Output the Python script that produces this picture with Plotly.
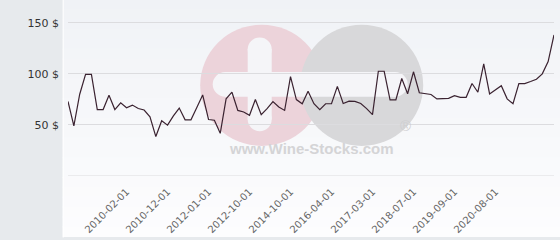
import plotly.graph_objects as go

dates = [
    "2008-06-01", "2008-09-01", "2008-11-01", "2009-01-01", "2009-03-01",
    "2009-05-01", "2009-07-01", "2009-09-01", "2009-11-01", "2010-01-01",
    "2010-02-01", "2010-03-01", "2010-04-01", "2010-06-01", "2010-07-01",
    "2010-09-01", "2010-10-01", "2010-12-01", "2011-02-01", "2011-04-01",
    "2011-06-01", "2011-08-01", "2011-10-01", "2011-11-01", "2012-01-01",
    "2012-02-01", "2012-03-01", "2012-04-01", "2012-06-01", "2012-07-01",
    "2012-08-01", "2012-10-01", "2013-01-01", "2013-04-01", "2013-07-01",
    "2013-10-01", "2014-01-01", "2014-04-01", "2014-10-01", "2014-12-01",
    "2015-03-01", "2015-05-01", "2015-08-01", "2015-10-01", "2016-01-01",
    "2016-04-01", "2016-05-01", "2016-07-01", "2016-08-01", "2016-10-01",
    "2016-11-01", "2017-01-01", "2017-03-01", "2017-05-01", "2017-07-01",
    "2017-09-01", "2017-11-01", "2018-01-01", "2018-04-01", "2018-07-01",
    "2018-09-01", "2018-11-01", "2019-01-01", "2019-03-01", "2019-05-01",
    "2019-07-01", "2019-09-01", "2019-10-01", "2019-12-01", "2020-01-01",
    "2020-03-01", "2020-04-01", "2020-06-01", "2020-08-01", "2020-09-01",
    "2020-10-01", "2020-11-01", "2020-12-01", "2021-01-01", "2021-02-01",
    "2021-03-01", "2021-04-01", "2021-05-01", "2021-06-01",
]

prices = [
    73, 49, 80, 99.5, 99.5, 65, 65, 79, 65, 71.6,
    66.8, 69.4, 66, 64.6, 58, 38.6, 54, 49.8, 58.8, 66.5,
    55, 55, 67, 79.3, 55.3, 54.6, 41.8, 75.5, 82, 64.2,
    62.7, 59.4, 74.8, 60, 65.9, 72.9, 67.5, 64.2, 97.3, 74.8,
    70.7, 82.9, 70.7, 64.9, 70.7, 70.7, 87.7, 71, 73.3, 73,
    71, 66, 60, 102.5, 102.5, 74.6, 74.6, 95.4, 80.5, 102,
    81.5, 81, 79.8, 75.5, 76, 76, 78.7, 77, 77, 90.5,
    82, 109.8, 80.3, 84.4, 88.3, 75.5, 70.7, 90.5, 90.5, 92.5,
    94.7, 100, 112, 138,
]

tick_labels = [
    "2010-02-01", "2010-12-01", "2012-01-01", "2012-10-01", "2014-10-01",
    "2016-04-01", "2017-03-01", "2018-07-01", "2019-09-01", "2020-08-01",
]

y_ticks = [0, 50, 100, 150]
y_tick_text = ["", "50 $", "100 $", "150 $"]

W, H = 560, 240
L, R = 68.3, 554.3
T, B = 5.0, 178.5


def px(x):
    return (x - L) / (R - L)


def py(y):
    return (B - y) / (B - T)


shapes = []


def lerp(c1, c2, t):
    return tuple(round(a + (b - a) * t) for a, b in zip(c1, c2))

top_c = (240, 242, 246)
bot_c = (253, 253, 254)
nb = 24
for i in range(nb):
    y0 = i * H / nb
    y1 = (i + 1) * H / nb
    c = lerp(top_c, bot_c, (i + 0.5) / nb)
    shapes.append(dict(type="rect", xref="paper", yref="paper", layer="below",
                       x0=px(63), x1=px(W + 2), y0=py(y1 + 0.5), y1=py(y0 - 0.5),
                       line=dict(width=0), fillcolor="rgb(%d,%d,%d)" % c))
shapes.append(dict(type="line", xref="paper", yref="paper", layer="below",
                   x0=px(63.5), x1=px(63.5), y0=py(H + 1), y1=py(-1),
                   line=dict(color="#ffffff", width=1)))


def circ(cx, cy, r, color):
    return dict(type="circle", xref="paper", yref="paper", layer="below",
                x0=px(cx - r), x1=px(cx + r), y0=py(cy + r), y1=py(cy - r),
                line=dict(width=0), fillcolor=color)


def rect(x0, y0, x1, y1, color):
    return dict(type="rect", xref="paper", yref="paper", layer="below",
                x0=px(x0), x1=px(x1), y0=py(y1), y1=py(y0),
                line=dict(width=0), fillcolor=color)

pink = "#ecd3da"
grey = "#d8d8da"
white = "#f5f5f8"
shapes.append(circ(262, 86.5, 61.5, pink))
shapes.append(circ(362, 86.5, 61.5, grey))
shapes.append(rect(225.5, 73, 395.5, 98, white))
shapes.append(circ(225.5, 85.5, 12.5, white))
shapes.append(circ(395.5, 85.5, 12.5, white))
shapes.append(rect(248, 50, 272, 121, white))
shapes.append(circ(260, 50, 12, white))
shapes.append(circ(260, 121, 12, white))
# baseline at zero
shapes.append(dict(type="line", xref="paper", yref="y", layer="below",
                   x0=0, x1=1, y0=0, y1=0,
                   line=dict(color="#dcdcdf", width=1)))

fig = go.Figure()
fig.add_trace(go.Scatter(
    x=list(range(len(prices))), y=prices, mode="lines",
    line=dict(color="#3a2230", width=1.2), hoverinfo="skip",
))

tick_idx = [dates.index(d) for d in tick_labels]

fig.update_layout(
    width=W, height=H,
    margin=dict(l=L, r=W - R, t=T, b=H - B, pad=0),
    paper_bgcolor="#e7eaed",
    plot_bgcolor="rgba(0,0,0,0)",
    showlegend=False,
    shapes=shapes,
    font=dict(family="DejaVu Sans", color="#333333"),
    annotations=[
        dict(text="<b>www.Wine-Stocks.com</b>", xref="paper", yref="paper",
             x=px(312), y=py(161.5), showarrow=False,
             font=dict(family="Liberation Sans", size=15, color="#d4d4d6")),
        dict(text="®", xref="paper", yref="paper",
             x=px(413), y=py(138), showarrow=False,
             font=dict(family="Liberation Sans", size=15, color="#cfcfd1")),
    ],
)
fig.update_xaxes(
    range=[0, len(prices) - 1],
    tickmode="array", tickvals=tick_idx, ticktext=tick_labels,
    tickangle=-45, tickfont=dict(size=10, color="#666666"),
    showgrid=False, zeroline=False, showline=False, ticks="",
    ticklabelstandoff=7,
)
fig.update_yaxes(
    range=[0, (B - T) / 1.0367],
    tickmode="array", tickvals=y_ticks, ticktext=y_tick_text,
    tickfont=dict(size=11, color="#333333"),
    showgrid=True, gridcolor="#dcdcdf", gridwidth=1,
    zeroline=False, showline=False, ticks="",
    ticklabelstandoff=8,
)

fig.write_html("out.html")
